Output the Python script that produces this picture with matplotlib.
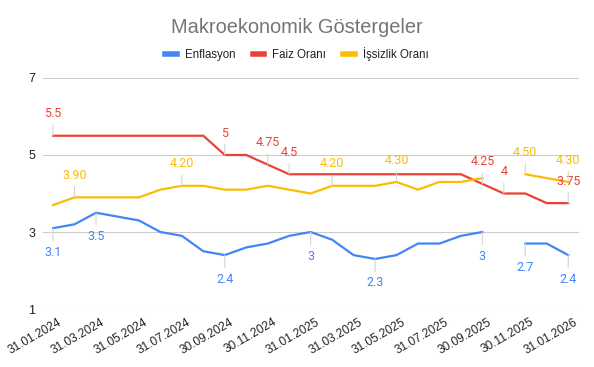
import numpy as np
import matplotlib
matplotlib.use("Agg")
import matplotlib.pyplot as plt
import matplotlib.transforms as mtransforms
from matplotlib.lines import Line2D

plt.rcParams['font.family'] = ['Liberation Sans', 'DejaVu Sans']

# monthly dates, Jan 2024 .. Jan 2026
dates = ["31.01.2024", "29.02.2024", "31.03.2024", "30.04.2024", "31.05.2024", "30.06.2024",
         "31.07.2024", "31.08.2024", "30.09.2024", "31.10.2024", "30.11.2024", "31.12.2024",
         "31.01.2025", "28.02.2025", "31.03.2025", "30.04.2025", "31.05.2025", "30.06.2025",
         "31.07.2025", "31.08.2025", "30.09.2025", "31.10.2025", "30.11.2025", "31.12.2025",
         "31.01.2026"]

nan = np.nan
enflasyon = [3.1, 3.2, 3.5, 3.4, 3.3, 3.0, 2.9, 2.5, 2.4, 2.6, 2.7, 2.9,
             3.0, 2.8, 2.4, 2.3, 2.4, 2.7, 2.7, 2.9, 3.0, nan, 2.7, 2.7, 2.4]
faiz = [5.5, 5.5, 5.5, 5.5, 5.5, 5.5, 5.5, 5.5, 5.0, 5.0, 4.75, 4.5,
        4.5, 4.5, 4.5, 4.5, 4.5, 4.5, 4.5, 4.5, 4.25, 4.0, 4.0, 3.75, 3.75]
issizlik = [3.7, 3.9, 3.9, 3.9, 3.9, 4.1, 4.2, 4.2, 4.1, 4.1, 4.2, 4.1,
            4.0, 4.2, 4.2, 4.2, 4.3, 4.1, 4.3, 4.3, 4.4, nan, 4.5, 4.4, 4.3]

# which points carry a data label
enf_labels = [0, 2, 8, 12, 15, 20, 22, 24]
faiz_labels = [0, 8, 10, 11, 20, 21, 24]
iss_labels = [1, 6, 13, 16, 22, 24]

blue = "#4285F4"
red = "#EA4335"
yellow = "#FBBC04"

fig = plt.figure(figsize=(5.94, 3.67), dpi=100)
ax = fig.add_axes([0.0724, 0.158, 0.9023, 0.6295])

x = np.arange(len(dates))
ax.plot(x, enflasyon, color=blue, lw=1.6, label="Enflasyon")
ax.plot(x, faiz, color=red, lw=1.6, label="Faiz Oranı")
ax.plot(x, issizlik, color=yellow, lw=1.6, label="İşsizlik Oranı")


def fmt(v, two=False):
    if two:
        return "%.2f" % v
    return ("%g" % v)


def label_points(vals, idx, color, above, two=False):
    off = 15.8 if above else -17.3
    for i in idx:
        ax.annotate(fmt(vals[i], two), xy=(i, vals[i]), xytext=(0, off),
                    textcoords="offset points", ha="center", va="center",
                    color=color, fontsize=9, family=["Roboto", "DejaVu Sans"],
                    arrowprops=dict(arrowstyle="-", color="#d4d4d4", lw=0.8,
                                    shrinkA=1.5, shrinkB=0))


label_points(enflasyon, enf_labels, blue, False)
label_points(faiz, faiz_labels, red, True)
label_points(issizlik, iss_labels, yellow, True, two=True)

ax.set_xlim(-0.47, 24.5)
ax.set_ylim(1, 7)
ax.set_yticks([1, 3, 5, 7])
ax.set_xticks(x[::2])
ax.set_xticklabels(dates[::2], rotation=30, ha="right", rotation_mode="anchor")
ax.tick_params(axis="x", length=0, labelsize=8.6, colors="#222222", pad=5)
ax.tick_params(axis="y", length=0, labelsize=9, colors="#222222", pad=5.5)
shift = mtransforms.ScaledTranslation(5 / 100, 0, fig.dpi_scale_trans)
for lab in ax.get_xticklabels():
    lab.set_transform(lab.get_transform() + shift)
ax.grid(axis="y", color="#cccccc", lw=0.8)
ax.set_axisbelow(True)
for s in ax.spines.values():
    s.set_visible(False)

fig.text(0.5, 0.926, "Makroekonomik Göstergeler", ha="center", va="center",
         fontsize=14.4, color="#757575")

handles = [Line2D([], [], color=blue, lw=4), Line2D([], [], color=red, lw=4),
           Line2D([], [], color=yellow, lw=4)]
fig.legend(handles, ["Enflasyon", "Faiz Oranı", "İşsizlik Oranı"],
           loc="center", bbox_to_anchor=(0.5, 0.852), ncol=3, frameon=False,
           fontsize=8.3, handlelength=1.0, handletextpad=0.7, columnspacing=1.5,
           labelcolor="#222222")

fig.savefig("out.png", dpi=100)
